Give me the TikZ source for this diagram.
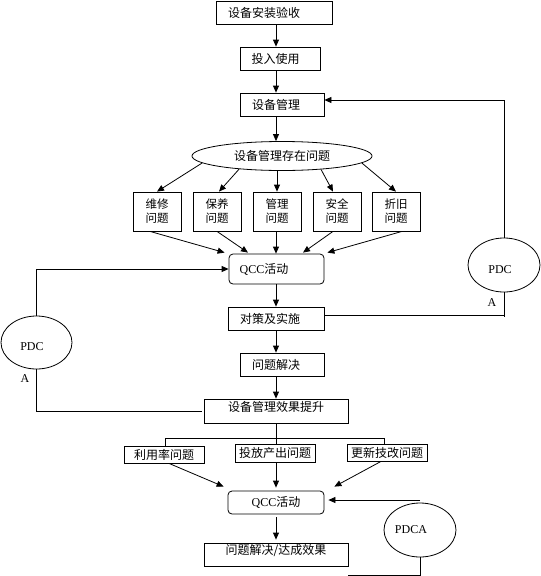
\documentclass[tikz,border=0pt]{standalone}
\usepackage{fontspec}
\setmainfont{Liberation Serif}
\newfontfamily\cjk{Noto Sans CJK SC}
\usetikzlibrary{arrows.meta,shapes.geometric}
\begin{document}
\begin{tikzpicture}[x=1pt,y=-1pt,
  every node/.style={font=\fontsize{12}{14}\selectfont},
  zh/.style={font=\cjk\fontsize{12}{14}\selectfont},
  zhs/.style={font=\cjk\fontsize{11.5}{14}\selectfont},
  box/.style={draw,line width=0.8pt,inner sep=0pt},
  rbox/.style={box,rounded corners=4pt},
  oval/.style={draw,ellipse,line width=0.8pt,inner sep=0pt},
  arr/.style={line width=0.8pt,-{Triangle[length=7pt,width=6pt]}},
  ln/.style={line width=0.8pt}
]
\useasboundingbox (0,0) rectangle (541,576);
\coordinate (cx) at (276,0);
% main column
\node[box,minimum width=116pt,minimum height=23pt,label={[zh,xshift=-10pt]center:设备安装验收}] (b1) at (274,12.5) {};
\node[box,minimum width=80pt,minimum height=23pt,label={[zh,xshift=-4.5pt]center:投入使用}] (b2) at (280,58.5) {};
\node[box,minimum width=84pt,minimum height=23pt,label={[zh,xshift=-6pt]center:设备管理}] (b3) at (282,104.5) {};
\node[oval,zh,minimum width=180pt,minimum height=29pt] (e) at (282,156) {设备管理存在问题};
\node[box,zhs,align=center,minimum width=48pt,minimum height=39pt] (m1) at (157,211.5) {维修\\问题};
\node[box,zhs,align=center,minimum width=48pt,minimum height=39pt] (m2) at (217,211.5) {保养\\问题};
\node[box,zhs,align=center,minimum width=48pt,minimum height=39pt] (m3) at (277,211.5) {管理\\问题};
\node[box,zhs,align=center,minimum width=48pt,minimum height=39pt] (m4) at (337,211.5) {安全\\问题};
\node[box,zhs,align=center,minimum width=48pt,minimum height=39pt] (m5) at (396,211.5) {折旧\\问题};
\node[rbox,minimum width=95pt,minimum height=30pt,label={[xshift=-12.5pt]center:QCC{\cjk 活动}}] (q1) at (276.5,269) {};
\node[box,minimum width=96pt,minimum height=23pt,label={[zh,xshift=-6pt]center:对策及实施}] (d) at (276,318.5) {};
\node[box,minimum width=84pt,minimum height=23pt,label={[zh,xshift=-6pt]center:问题解决}] (s) at (282,364.5) {};
\node[box,minimum width=144pt,minimum height=24pt,label={[zh,yshift=4pt]center:设备管理效果提升}] (t) at (276,411) {};
\node[box,zh,minimum width=80pt,minimum height=17pt] (u1) at (164,454.5) {利用率问题};
\node[box,zh,minimum width=80pt,minimum height=18pt] (u2) at (275,453) {投放产出问题};
\node[box,zh,minimum width=80pt,minimum height=17pt] (u3) at (387,452.5) {更新技改问题};
\node[rbox,minimum width=96pt,minimum height=23pt] (q2) at (276,502.5) {QCC{\cjk 活动}};
\node[box,minimum width=144pt,minimum height=23pt,label={[zh,yshift=3.5pt]center:问题解决/达成效果}] (f) at (276,554.5) {};
% cycles
\node[oval,minimum width=72pt,minimum height=54pt,label={[xshift=-4pt,yshift=-5pt]center:PDC}] (pr) at (504,265) {};
\node[oval,minimum width=71pt,minimum height=53pt,label={[xshift=-4.5pt,yshift=-4.5pt]center:PDC}] (pl) at (36.5,342.5) {};
\node[oval,minimum width=72pt,minimum height=54pt,label={[xshift=-9pt]center:PDCA}] (pa) at (420,530) {};
\node (ar) at (492,303) {A};
\node (al) at (25,379) {A};
% column arrows
\draw[arr] (b1.south -| cx) -- (b2.north -| cx);
\draw[arr] (b2.south -| cx) -- (b3.north -| cx);
\draw[arr] (b3.south -| cx) -- (e.north -| cx);
% ellipse to problem boxes
\draw[arr] (e.185) -- (m1.north);
\draw[arr] (e.197.6) -- ([xshift=2pt]m2.north);
\draw[arr] (e.south -| m3) -- (m3.north);
\draw[arr] (e.341.6) -- ([xshift=-4pt]m4.north);
\draw[arr] (e.355) -- (m5.north);
% problem boxes to QCC
\draw[arr] ([xshift=-7pt]m1.south) -- ([xshift=-4pt,yshift=1pt]q1.north west);
\draw[arr] (m2.south) -- ([xshift=-28.5pt,yshift=1pt]q1.north);
\draw[arr] (m3.south -| cx) -- (q1.north -| cx);
\draw[arr] ([xshift=-4pt]m4.south) -- ([xshift=26.5pt,yshift=1pt]q1.north);
\draw[arr] ([xshift=6pt]m5.south) -- ([xshift=3pt,yshift=1pt]q1.north east);
\draw[arr] (q1.south -| cx) -- (d.north -| cx);
\draw[arr] (d.south -| cx) -- (s.north -| cx);
\draw[arr] (s.south -| cx) -- (t.north -| cx);
% right PDC loop
\draw[arr] (pr.north) -- (pr.north |- 0,100) -- ([yshift=4.5pt]b3.east);
\coordinate (dr) at ([yshift=3.5pt]d.east);
\draw[ln] (pr.south) -- ([yshift=-2pt]dr -| pr.south);
\draw[ln] (dr) -- (dr -| pr.south);
% left PDC loop
\draw[arr] (pl.north) -- (pl.north |- q1.west) -- (q1.west);
\draw[ln] (pl.south) -- (pl.south |- t.west) -- ([xshift=-2pt]t.west);
% branch
\coordinate (bl) at (165,438);
\coordinate (br) at (384,438);
\draw[ln] (t.south -| cx) -- (u2.north -| cx);
\draw[ln] (u1.north -| bl) -- (bl) -- (br) -- (u3.north -| br);
\draw[arr] ([xshift=5pt]u1.south) -- ([xshift=-4pt,yshift=4pt]q2.north west);
\draw[arr,shorten >=3pt] (u2.south -| cx) -- (q2.north -| cx);
\draw[arr] ([xshift=-6pt]u3.south) -- ([xshift=10pt,yshift=4pt]q2.north east);
\draw[arr,shorten >=4pt] (pa.north |- 0,500) -- (q2.east |- 0,500);
\draw[arr,shorten <=3pt,shorten >=3pt] (q2.south -| cx) -- (f.north -| cx);
\coordinate (fb) at (348,575);
\draw[ln] (pa.south) -- (pa.south |- fb) -- (fb);
\end{tikzpicture}
\end{document}
